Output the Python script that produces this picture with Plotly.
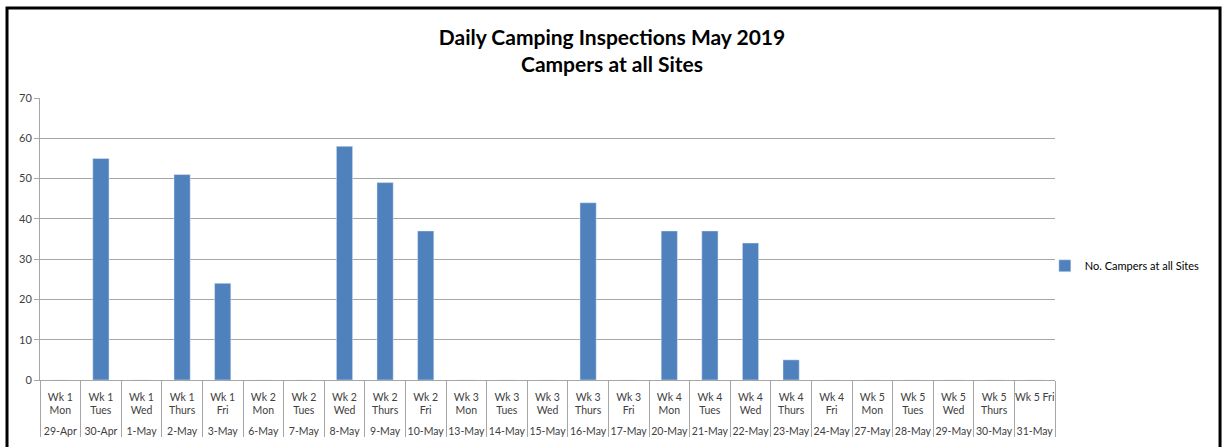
import plotly.graph_objects as go

days = ["Wk 1<br>Mon", "Wk 1<br>Tues", "Wk 1<br>Wed", "Wk 1<br>Thurs", "Wk 1<br>Fri",
        "Wk 2<br>Mon", "Wk 2<br>Tues", "Wk 2<br>Wed", "Wk 2<br>Thurs", "Wk 2<br>Fri",
        "Wk 3<br>Mon", "Wk 3<br>Tues", "Wk 3<br>Wed", "Wk 3<br>Thurs", "Wk 3<br>Fri",
        "Wk 4<br>Mon", "Wk 4<br>Tues", "Wk 4<br>Wed", "Wk 4<br>Thurs", "Wk 4<br>Fri",
        "Wk 5<br>Mon", "Wk 5<br>Tues", "Wk 5<br>Wed", "Wk 5<br>Thurs", "Wk 5 Fri<br> "]
dates = ["29-Apr", "30-Apr", "1-May", "2-May", "3-May",
         "6-May", "7-May", "8-May", "9-May", "10-May",
         "13-May", "14-May", "15-May", "16-May", "17-May",
         "20-May", "21-May", "22-May", "23-May", "24-May",
         "27-May", "28-May", "29-May", "30-May", "31-May"]
campers = [0, 55, 0, 51, 24,
           0, 0, 58, 49, 37,
           0, 0, 0, 44, 0,
           37, 37, 34, 5, 0,
           0, 0, 0, 0, 0]

FONT = "Lato"

fig = go.Figure()
fig.add_trace(go.Bar(
    x=[dates, [d + "<br> " for d in days]], y=campers,
    name="No. Campers at all Sites",
    marker_color="#4F81BD",
))

fig.update_layout(
    width=1224, height=447,
    margin=dict(l=40, r=169, t=98, b=67, autoexpand=False),
    paper_bgcolor="white", plot_bgcolor="white",
    font=dict(family=FONT, size=11, color="#404040"),
    bargap=0.6,
    title=dict(
        text="Daily Camping Inspections May 2019<br>Campers at all Sites",
        x=0.5, xanchor="center", xref="container",
        y=0.9, yanchor="top",
        font=dict(family=FONT, size=21, color="black", weight="bold"),
    ),
    showlegend=True,
    legend=dict(x=0.99, y=0.405, xanchor="left", yanchor="middle",
                font=dict(family=FONT, size=11, color="black"),
                itemwidth=30, bgcolor="rgba(0,0,0,0)"),
)
fig.update_xaxes(
    type="multicategory", automargin=False, tickangle=0,
    showline=True, linecolor="#A6A6A6", linewidth=1,
    showdividers=True, dividercolor="#A6A6A6", dividerwidth=1,
    ticks="outside", tickcolor="#A6A6A6", ticklabelstandoff=7,
    tickfont=dict(family=FONT, size=10.5, color="#404040"),
)
fig.update_yaxes(
    range=[0, 70], dtick=10, automargin=False,
    showgrid=True, gridcolor="#A6A6A6", gridwidth=1,
    showline=True, linecolor="#A6A6A6", linewidth=1,
    ticks="outside", ticklen=5, tickcolor="#A6A6A6",
    tickfont=dict(family=FONT, size=11, color="#404040"),
    zeroline=False,
)
# chart frame
fig.add_shape(type="rect", xref="paper", yref="paper",
              x0=-0.0325, x1=1.1626, y0=-0.4, y1=1.319,
              line=dict(color="black", width=3), layer="below")

fig.write_html("out.html", config={"displayModeBar": False},
               post_script="document.body.style.margin='0';document.body.style.overflow='hidden';")
